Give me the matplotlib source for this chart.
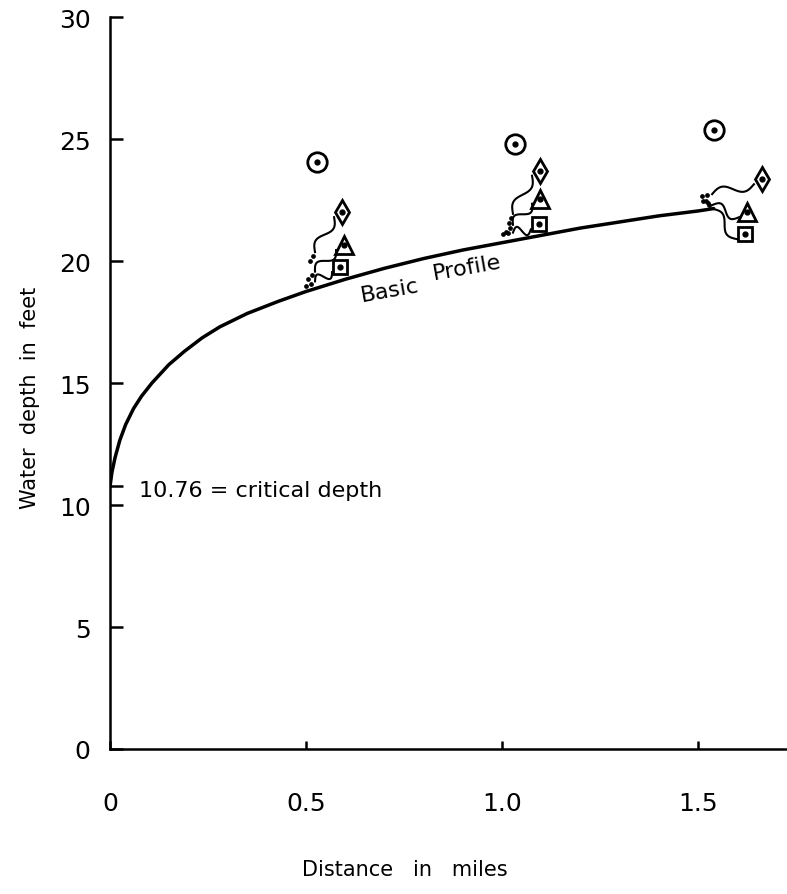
import numpy as np
import matplotlib.pyplot as plt

# Basic backwater profile (miles, feet)
profile_x = [0.0, 0.005, 0.013, 0.025, 0.04, 0.06, 0.08, 0.107, 0.15, 0.19,
             0.235, 0.28, 0.35, 0.43, 0.5, 0.6, 0.7, 0.8, 0.9, 1.0,
             1.1, 1.2, 1.3, 1.4, 1.5, 1.54]
profile_y = [10.76, 11.35, 11.95, 12.65, 13.3, 13.95, 14.45, 15.0, 15.75, 16.3,
             16.85, 17.3, 17.85, 18.35, 18.75, 19.25, 19.7, 20.1, 20.45, 20.75,
             21.05, 21.35, 21.6, 21.85, 22.05, 22.15]
critical_depth = 10.76

# Plotted depths for the other cases at the three stations
circle_x = [0.528, 1.033, 1.541]
circle_y = [24.05, 24.8, 25.35]
diamond_x = [0.592, 1.097, 1.663]
diamond_y = [22.0, 23.7, 23.35]
triangle_x = [0.597, 1.097, 1.625]
triangle_y = [20.65, 22.55, 22.0]
square_x = [0.587, 1.094, 1.620]
square_y = [19.75, 21.5, 21.1]

x_ticks = [0, 0.5, 1.0, 1.5]
x_labels = ["0", "0.5", "1.0", "1.5"]
y_ticks = [0, 5, 10, 15, 20, 25, 30]

W, H = 787, 895
fig = plt.figure(figsize=(W / 100, H / 100), dpi=100)
ax_l, ax_b, ax_w, ax_h = 110, 145, 677, 732
ax = fig.add_axes([ax_l / W, ax_b / H, ax_w / W, ax_h / H])
xmax = 1.727
ax.set_xlim(0, xmax)
ax.set_ylim(0, 30)

# pixels per data unit, used to keep the leader wiggles even
SX = ax_w / xmax
SY = ax_h / 30.0

ink = "black"
ax.plot(profile_x, profile_y, color=ink, lw=2.5, solid_capstyle="round",
        solid_joinstyle="round", zorder=3)


def leader(x0, y0, x1, y1, amp=5.0):
    # small S-shaped leader from near the profile to a symbol
    p0 = np.array([x0 * SX, y0 * SY])
    p1 = np.array([x1 * SX, y1 * SY])
    d = p1 - p0
    n = np.array([-d[1], d[0]]) / np.hypot(*d)
    t = np.linspace(0, 1, 40)
    pts = p0 + np.outer(t, d) + np.outer(amp * np.sin(2 * np.pi * t), n)
    ax.plot(pts[:, 0] / SX, pts[:, 1] / SY, color=ink, lw=1.5, zorder=3)
    u = d / np.hypot(*d)
    for back in (5.0, 10.0):
        q = p0 - back * u
        ax.plot(q[0] / SX, q[1] / SY, "o", color=ink, ms=2.4, zorder=3)


def profile_at(x):
    return np.interp(x, profile_x, profile_y)


# lift of each leader start above the profile: diamond, triangle, square
lifts = [[1.5, 0.7, 0.3], [1.1, 0.65, 0.33], [0.6, 0.15, 0.0]]
for i in range(3):
    xs = circle_x[i] - 0.005
    ends = [(diamond_x[i], diamond_y[i]), (triangle_x[i], triangle_y[i]),
            (square_x[i], square_y[i])]
    for k, (mx, my) in enumerate(ends):
        ys = profile_at(xs) + lifts[i][k]
        leader(xs, ys, mx - 8 / SX, my - 5 / SY)

sym = dict(ls="none", mfc="white", mec=ink, mew=2.0, zorder=4)
ax.plot(circle_x, circle_y, marker="o", ms=14, **sym)
ax.plot(diamond_x, diamond_y, marker="d", ms=12, **sym)
ax.plot(triangle_x, triangle_y, marker="^", ms=13, **sym)
ax.plot(square_x, square_y, marker="s", ms=10, **sym)
for xs, ys in [(circle_x, circle_y), (diamond_x, diamond_y),
               (triangle_x, triangle_y), (square_x, square_y)]:
    ax.plot(xs, ys, "o", color=ink, ms=3.5, zorder=5)

ax.text(0.715, 18.8, "Basic", fontsize=16, rotation=10, ha="center", va="center")
ax.text(0.91, 19.75, "Profile", fontsize=16, rotation=10, ha="center", va="center")
ax.text(0.074, 10.6, f"{critical_depth:.2f} = critical depth", fontsize=16,
        ha="left", va="center")

for side in ("top", "right"):
    ax.spines[side].set_visible(False)
for side in ("left", "bottom"):
    ax.spines[side].set_linewidth(1.8)

ax.set_xticks(x_ticks)
ax.set_xticklabels(x_labels)
ax.set_yticks(y_ticks)
ax.set_yticks([critical_depth], minor=True)
ax.tick_params(axis="y", which="both", direction="in", length=9, width=1.8,
               labelsize=18, pad=14)
ax.tick_params(axis="x", direction="in", length=6, width=1.8, labelsize=18, pad=30)

fig.text(0.515, 1 - 870 / H, "Distance   in   miles", fontsize=15,
         ha="center", va="center")
fig.text(30 / W, 1 - 398 / H, "Water  depth  in  feet", fontsize=15,
         rotation=90, ha="center", va="center")

fig.savefig("out.png", dpi=100)
